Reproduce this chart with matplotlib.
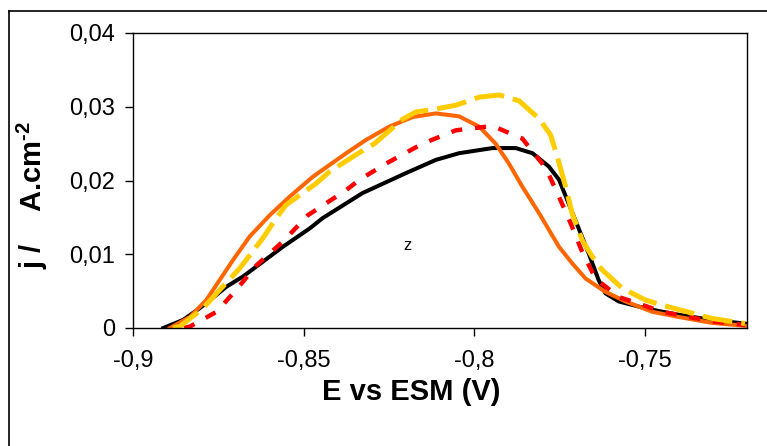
import matplotlib
matplotlib.use("Agg")
import matplotlib.pyplot as plt
from matplotlib.lines import Line2D

plt.rcParams.update({"font.family": ["Liberation Sans", "DejaVu Sans"],
                     "mathtext.fontset": "custom",
                     "mathtext.rm": "Liberation Sans:bold",
                     "mathtext.bf": "Liberation Sans:bold"})

# courbes j(E)
E_black = [-0.8911, -0.8853, -0.8804, -0.8755, -0.8726, -0.8677, -0.8619, -0.8561,
           -0.8482, -0.8444, -0.8327, -0.8200, -0.8112, -0.8044, -0.7946, -0.7878,
           -0.7829, -0.7781, -0.7751, -0.7703, -0.7664, -0.7635, -0.7615, -0.7576,
           -0.7517, -0.7459, -0.7401, -0.7304, -0.7206]
j_black = [0.0000, 0.0011, 0.0027, 0.0045, 0.0056, 0.0070, 0.0090, 0.0110,
           0.0135, 0.0149, 0.0183, 0.0210, 0.0228, 0.0237, 0.0244, 0.0244,
           0.0237, 0.0219, 0.0201, 0.0146, 0.0101, 0.0065, 0.0047, 0.0036,
           0.0029, 0.0023, 0.0018, 0.0011, 0.0006]

E_orange = [-0.8892, -0.8833, -0.8785, -0.8746, -0.8707, -0.8658, -0.8599, -0.8541,
            -0.8473, -0.8375, -0.8317, -0.8249, -0.8180, -0.8112, -0.8044, -0.7985,
            -0.7937, -0.7898, -0.7859, -0.7810, -0.7751, -0.7713, -0.7673, -0.7615,
            -0.7556, -0.7478, -0.7401, -0.7303, -0.7206]
j_orange = [0.0000, 0.0015, 0.0038, 0.0065, 0.0092, 0.0124, 0.0153, 0.0178,
            0.0205, 0.0237, 0.0255, 0.0273, 0.0286, 0.0291, 0.0287, 0.0273,
            0.0250, 0.0223, 0.0192, 0.0156, 0.0110, 0.0088, 0.0067, 0.0049,
            0.0036, 0.0022, 0.0015, 0.0007, 0.0003]

E_red = [-0.8850, -0.8833, -0.8755, -0.8697, -0.8638, -0.8561, -0.8487, -0.8375,
         -0.8336, -0.8258, -0.8151, -0.8054, -0.7946, -0.7859, -0.7790, -0.7756,
         -0.7717, -0.7683, -0.7644, -0.7576, -0.7517, -0.7449, -0.7303, -0.7206]
j_red = [0.0000, 0.0002, 0.0022, 0.0052, 0.0085, 0.0117, 0.0153, 0.0187,
         0.0201, 0.0223, 0.0250, 0.0268, 0.0274, 0.0257, 0.0217, 0.0183,
         0.0142, 0.0103, 0.0067, 0.0042, 0.0033, 0.0022, 0.0009, 0.0004]

E_yellow = [-0.8883, -0.8863, -0.8794, -0.8755, -0.8687, -0.8619, -0.8580, -0.8551,
            -0.8463, -0.8424, -0.8346, -0.8292, -0.8210, -0.8170, -0.8112, -0.8054,
            -0.7985, -0.7927, -0.7868, -0.7810, -0.7776, -0.7756, -0.7732, -0.7713,
            -0.7683, -0.7654, -0.7625, -0.7566, -0.7498, -0.7449, -0.7303, -0.7206]
j_yellow = [0.0000, 0.0002, 0.0027, 0.0047, 0.0081, 0.0122, 0.0149, 0.0167,
            0.0196, 0.0212, 0.0235, 0.0250, 0.0283, 0.0293, 0.0297, 0.0302,
            0.0313, 0.0316, 0.0308, 0.0284, 0.0262, 0.0232, 0.0192, 0.0156,
            0.0119, 0.0097, 0.0079, 0.0054, 0.0038, 0.0031, 0.0013, 0.0006]

xticks = [-0.9, -0.85, -0.8, -0.75]
xticklabels = ["-0,9", "-0,85", "-0,8", "-0,75"]
yticks = [0, 0.01, 0.02, 0.03, 0.04]
yticklabels = ["0", "0,01", "0,02", "0,03", "0,04"]

fig = plt.figure(figsize=(7.67, 4.46), dpi=100)
ax = fig.add_axes([133/767, 1 - 328/446, 614/767, 295/446])

ax.plot(E_black, j_black, color="black", lw=2.9)
ax.plot(E_orange, j_orange, color="#FF6600", lw=2.9)
ax.plot(E_red, j_red, color="#FF0000", lw=3.2, ls=(0, (2.5, 2.9)))
ax.plot(E_yellow, j_yellow, color="#FFCC00", lw=3.6, ls=(0, (6.0, 1.8)))

ax.text(-0.8196, 0.01125, "z", fontsize=12, ha="center", va="center")

ax.set_xlim(-0.9, -0.72)
ax.set_ylim(0, 0.04)
ax.set_xticks(xticks)
ax.set_xticklabels(xticklabels)
ax.set_yticks(yticks)
ax.set_yticklabels(yticklabels)
ax.tick_params(axis="x", direction="out", length=6, width=1, labelsize=17, pad=10)
ax.tick_params(axis="y", direction="out", length=6, width=1, labelsize=17, pad=7)
for s in ax.spines.values():
    s.set_linewidth(1)

ax.set_xlabel("E vs ESM (V)", fontsize=21, fontweight="bold")
ax.xaxis.set_label_coords(0.453, -0.17)
ax.set_ylabel(r"j /    A.cm$^{\text{-2}}$", fontsize=21, fontweight="bold")
ax.yaxis.set_label_coords(-0.135, 0.45)

# cadre extérieur
fig.add_artist(Line2D([9/767, 9/767], [0, 1 - 11/446], color="black", lw=1.2,
                      transform=fig.transFigure))
fig.add_artist(Line2D([9/767, 1], [1 - 11/446, 1 - 11/446], color="black", lw=1.2,
                      transform=fig.transFigure))

fig.savefig("out.png", dpi=100)
plt.close()
